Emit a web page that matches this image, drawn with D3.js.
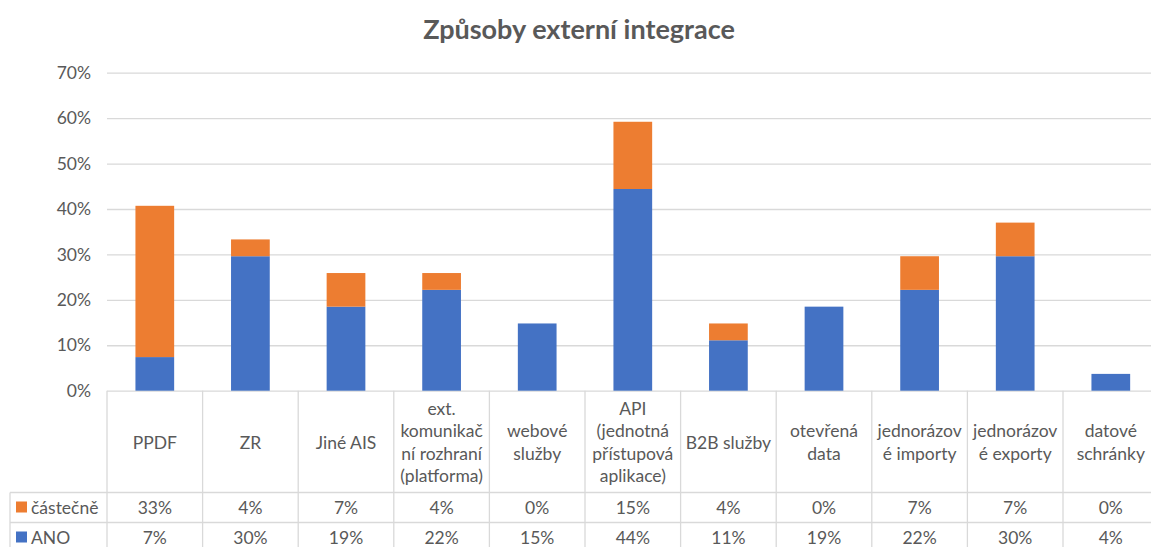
<!DOCTYPE html>
<html>
<head>
<meta charset="utf-8">
<script src="https://cdn.jsdelivr.net/npm/d3@7"></script>
<style>
  body { margin: 0; background: #fff; }
  svg { display: block; font-family: Lato, "Open Sans", sans-serif; }
</style>
</head>
<body>
<script>
// categories (header lines as shown in the table)
const categories = ["PPDF", "ZR", "Jiné AIS", "ext. komunikační rozhraní (platforma)", "webové služby",
  "API (jednotná přístupová aplikace)", "B2B služby", "otevřená data", "jednorázové importy",
  "jednorázové exporty", "datové schránky"];
const headerLines = [
  ["PPDF"], ["ZR"], ["Jiné AIS"], ["ext.", "komunikač", "ní rozhraní", "(platforma)"],
  ["webové", "služby"], ["API", "(jednotná", "přístupová", "aplikace)"], ["B2B služby"],
  ["otevřená", "data"], ["jednorázov", "é importy"], ["jednorázov", "é exporty"], ["datové", "schránky"]
];
// values in %
const ano = [7.4, 29.6, 18.5, 22.2, 14.8, 44.4, 11.1, 18.5, 22.2, 29.6, 3.7];
const castecne = [33.3, 3.7, 7.4, 3.7, 0, 14.8, 3.7, 0, 7.4, 7.4, 0];
const yTicks = [0, 10, 20, 30, 40, 50, 60, 70];

const width = 1151, height = 547;
const colBlue = "#4472C4", colOrange = "#ED7D31";
const gridColor = "#d9d9d9", textColor = "#595959";
const fs = 17.5;

const svg = d3.select("body").append("svg")
    .attr("width", width)
    .attr("height", height);

const left = 107, colW = 95.6;
const plotTop = 72.7, plotBottom = 390.7;

const x = d3.scaleBand()
    .domain(categories)
    .range([left, left + colW * categories.length])
    .paddingInner(0).paddingOuter(0);

const y = d3.scaleLinear()
    .domain([0, 70])
    .range([plotBottom, plotTop]);

// title
svg.append("text")
    .attr("x", 579).attr("y", 39)
    .attr("text-anchor", "middle")
    .attr("font-size", 27).attr("font-weight", "bold")
    .attr("fill", textColor)
    .text("Způsoby externí integrace");

// y axis with gridlines
const yAxis = svg.append("g")
    .attr("transform", `translate(${left},0)`)
    .call(d3.axisLeft(y).tickValues(yTicks).tickFormat(d => d + "%")
        .tickSize(-(width - left + 20)).tickPadding(16));
yAxis.select(".domain").remove();
yAxis.selectAll(".tick line").attr("stroke", gridColor).attr("stroke-width", 1.3);
yAxis.selectAll(".tick text").attr("fill", textColor).attr("font-size", fs)
    .attr("font-family", "Lato, 'Open Sans', sans-serif");

// stacked bars
const rows = categories.map((c, i) => ({ cat: c, ano: ano[i], castecne: castecne[i] }));
const series = d3.stack().keys(["ano", "castecne"])(rows);
const color = { ano: colBlue, castecne: colOrange };
const barW = colW * 0.405;

svg.append("g").selectAll("g")
    .data(series)
    .join("g")
    .attr("fill", d => color[d.key])
    .selectAll("rect")
    .data(d => d)
    .join("rect")
    .attr("x", d => x(d.data.cat) + (colW - barW) / 2)
    .attr("width", barW)
    .attr("y", d => y(d[1]))
    .attr("height", d => y(d[0]) - y(d[1]));

// data table
const row1 = 492.5, row2 = 522.5, legendLeft = 10;
const table = svg.append("g")
    .attr("stroke", gridColor).attr("stroke-width", 1.3);
categories.forEach((c, i) => {
  table.append("line")
      .attr("x1", x(c)).attr("x2", x(c))
      .attr("y1", plotBottom).attr("y2", height);
});
table.append("line").attr("x1", legendLeft).attr("x2", legendLeft).attr("y1", row1).attr("y2", height);
[row1, row2].forEach(yy => {
  table.append("line").attr("x1", legendLeft).attr("x2", width).attr("y1", yy).attr("y2", yy);
});

// header labels
const lineH = 22.3;
const headerMid = (plotBottom + row1) / 2 + 1;
svg.append("g").selectAll("text")
    .data(categories)
    .join("text")
    .attr("text-anchor", "middle")
    .attr("font-size", fs)
    .attr("fill", textColor)
    .each(function(c, i) {
      const lines = headerLines[i];
      const t = d3.select(this);
      const y0 = headerMid - (lines.length - 1) * lineH / 2 + 6;
      lines.forEach((l, k) => {
        t.append("tspan")
            .attr("x", x(c) + colW / 2)
            .attr("y", y0 + k * lineH)
            .text(l);
      });
    });

// value rows
const tableRows = [
  { name: "částečně", vals: castecne, color: colOrange, y: row1 },
  { name: "ANO", vals: ano, color: colBlue, y: row2 }
];
tableRows.forEach(r => {
  svg.append("rect")
      .attr("x", 16).attr("y", r.y + 9).attr("width", 11).attr("height", 11)
      .attr("fill", r.color);
  svg.append("text")
      .attr("x", 31).attr("y", r.y + 21)
      .attr("font-size", fs).attr("fill", textColor)
      .text(r.name);
  svg.append("g").selectAll("text")
      .data(r.vals)
      .join("text")
      .attr("x", (d, i) => x(categories[i]) + colW / 2)
      .attr("y", r.y + 21)
      .attr("text-anchor", "middle")
      .attr("font-size", fs).attr("fill", textColor)
      .text(d => Math.round(d) + "%");
});
</script>
</body>
</html>
